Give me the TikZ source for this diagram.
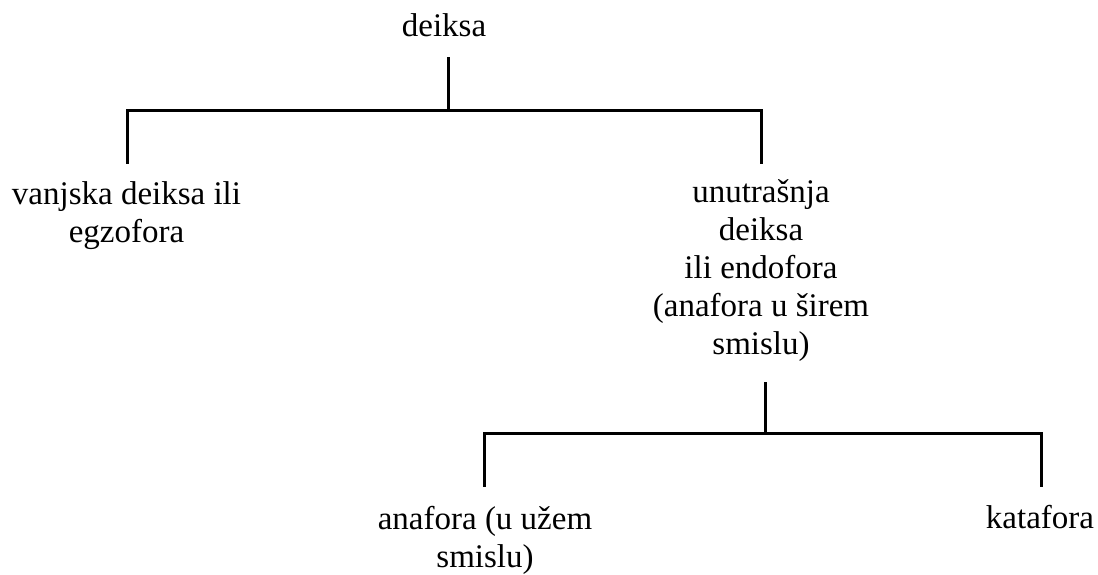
\documentclass[tikz,border=0pt]{standalone}
\usepackage{fontspec}
\setmainfont{Liberation Serif}
\begin{document}
\begin{tikzpicture}[x=1pt,y=-1pt,
  lbl/.style={anchor=north,inner sep=0pt,align=center,font=\fontsize{33}{38}\selectfont},
  conn/.style={line width=3pt,line join=miter,line cap=rect}]
\useasboundingbox[fill=white] (0,0) rectangle (1098,574);
% strut height = 0.7*38 = 26.6 ; north = baseline - 26.6
\node[lbl] (root) at (444,9.4) {\strut deiksa};
\node[lbl] (ext) at (126.5,177.4) {\strut vanjska deiksa ili\\egzofora};
\node[lbl] (int) at (761,175.4) {\strut unutrašnja\\deiksa\\ili endofora\\(anafora u širem\\smislu)};
\node[lbl] (ana) at (485,502.4) {\strut anafora (u užem\\smislu)};
\node[lbl] (kat) at (1040,501.4) {\strut katafora};
% stems
\coordinate (rs) at (448,58);
\coordinate (es) at (127,162);
\coordinate (is) at (761,162);
\coordinate (ir) at (765,383);
\coordinate (as) at (484,485);
\coordinate (ks) at (1041,485);
\draw[conn] (rs) -- ++(0,52) coordinate (j1);
\draw[conn] (es) |- (j1) -| (is);
\draw[conn] (ir) -- ++(0,50.5) coordinate (j2);
\draw[conn] (as) |- (j2) -| (ks);
\end{tikzpicture}
\end{document}
